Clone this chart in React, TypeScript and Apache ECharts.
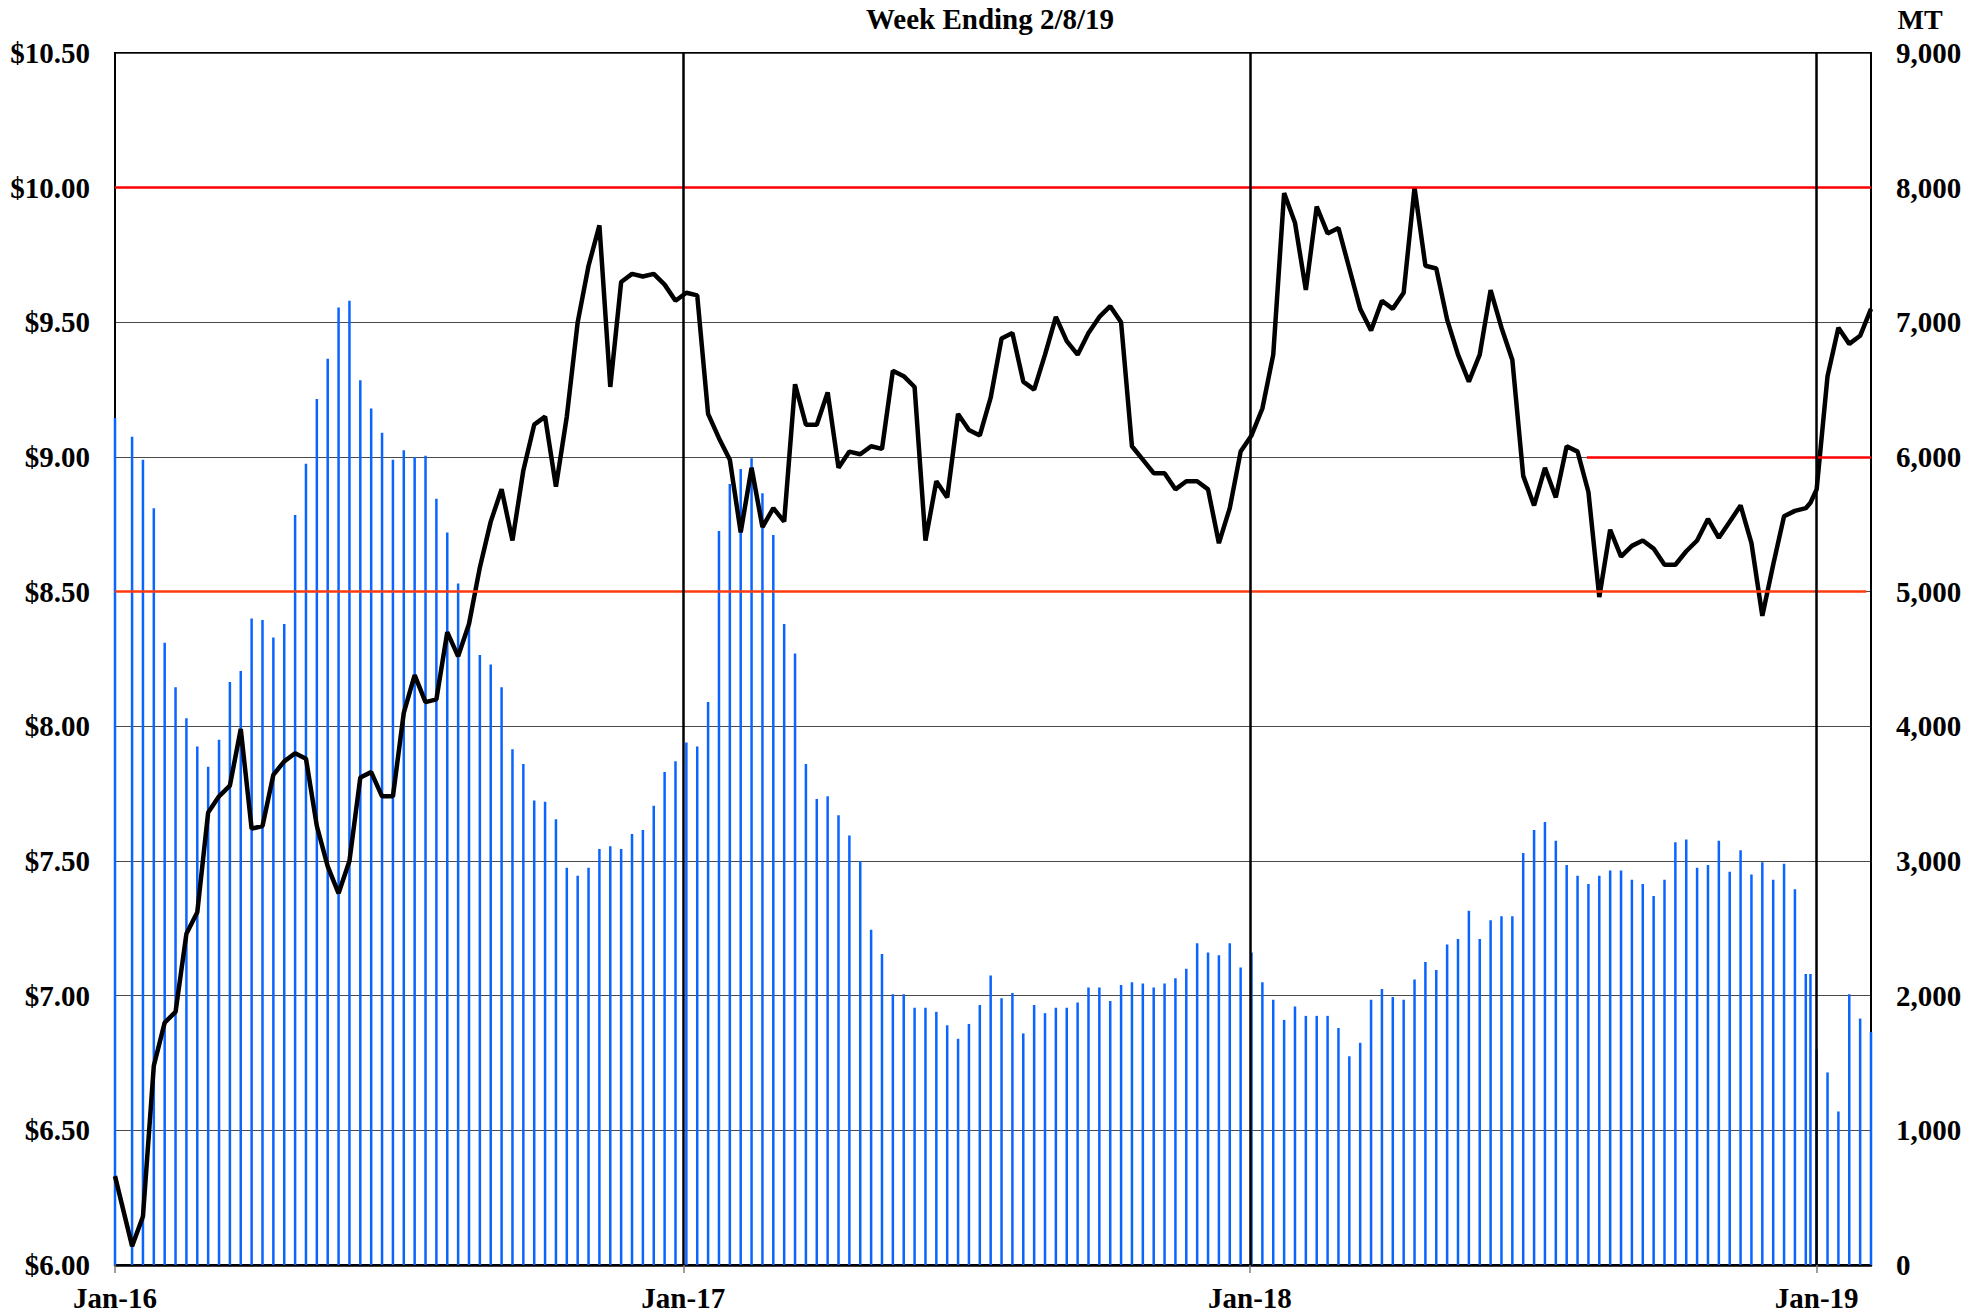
import React, { useEffect, useRef } from "react";
import * as echarts from "echarts";

// ---------- categories: week-ending dates ----------
const FIRST_WEEK = "2016-01-15";
const LAST_WEEK = "2019-02-08";
const extraDates = ["2016-01-04", "2018-12-31"];
const AXIS_START = "2016-01-04";

const DAY = 86400000;
const toUTC = (s: string) => {
  const [y, m, d] = s.split("-").map(Number);
  return Date.UTC(y, m - 1, d);
};
const isoDate = (t: number) => new Date(t).toISOString().slice(0, 10);

function buildWeeks(): string[] {
  const out: string[] = [];
  for (let t = toUTC(FIRST_WEEK); t <= toUTC(LAST_WEEK); t += 7 * DAY) out.push(isoDate(t));
  return [...out, ...extraDates].sort();
}
const weekEnding: string[] = buildWeeks();

// ---------- tick labels ----------
const yearTickDates = ["2016-01-04", "2017-01-04", "2018-01-04", "2019-01-04"];
const yearTickLabels = ["Jan-16", "Jan-17", "Jan-18", "Jan-19"];

// ---------- series values ----------
// price, $ (left axis)
const priceValues: number[] = [
  6.33,
  6.07, 6.18, 6.74, 6.90, 6.94, 7.23, 7.31, 7.68, 7.74, 7.78, 7.99, 7.62, 7.63, 7.82, 7.87,
  7.90, 7.88, 7.63, 7.48, 7.38, 7.50, 7.81, 7.83, 7.74, 7.74,
  8.05, 8.19, 8.09, 8.10, 8.35, 8.26, 8.38, 8.59, 8.76, 8.88, 8.69, 8.95, 9.12, 9.15, 8.89,
  9.15, 9.50, 9.71, 9.86, 9.26, 9.65, 9.68, 9.67, 9.68, 9.64, 9.58, 9.61,
  9.60, 9.16, 9.07, 8.99, 8.72, 8.96, 8.74, 8.81, 8.76, 9.27, 9.12, 9.12, 9.24, 8.96, 9.02,
  9.01, 9.04, 9.03, 9.32, 9.30, 9.26, 8.69, 8.91, 8.85, 9.16, 9.10, 9.08,
  9.22, 9.44, 9.46, 9.28, 9.25, 9.38, 9.52, 9.43, 9.38, 9.46, 9.52, 9.56, 9.50, 9.04, 8.99,
  8.94, 8.94, 8.88, 8.91, 8.91, 8.88, 8.68, 8.81, 9.02, 9.08, 9.18,
  9.38, 9.98, 9.87, 9.62, 9.93, 9.83, 9.85, 9.70, 9.55, 9.47, 9.58, 9.55, 9.61, 10.00, 9.71,
  9.70, 9.51, 9.38, 9.28, 9.38, 9.62, 9.48, 9.36, 8.93, 8.82, 8.96, 8.85,
  9.04, 9.02, 8.87, 8.48, 8.73, 8.63, 8.67, 8.69, 8.66, 8.60, 8.60, 8.65, 8.69, 8.77, 8.70,
  8.76, 8.82, 8.68, 8.41, 8.60, 8.78, 8.80, 8.81,
  8.83,
  8.88, 9.30, 9.48, 9.42, 9.45, 9.55,
];

// volume, MT (right axis)
const volumeValues: number[] = [
  6290,
  6150, 5980, 5620, 4620, 4290, 4060, 3850, 3700, 3900, 4330, 4410, 4800, 4790, 4660, 4760,
  5570, 5950, 6430, 6730, 7110, 7160, 6570, 6360, 6180, 5980,
  6050, 6000, 6010, 5690, 5440, 5060, 4750, 4530, 4460, 4290, 3830, 3720, 3450, 3440, 3310,
  2950, 2890, 2950, 3090, 3110, 3090, 3200, 3230, 3410, 3660, 3740, 3880,
  3850, 4180, 5450, 5800, 5910, 5990, 5730, 5420, 4760, 4540, 3720, 3460, 3480, 3340, 3190,
  3000, 2490, 2310, 2010, 2010, 1910, 1910, 1880, 1780, 1680, 1790, 1930,
  2150, 1980, 2020, 1720, 1930, 1870, 1910, 1910, 1950, 2060, 2060, 1960, 2080, 2100, 2090,
  2060, 2090, 2130, 2200, 2390, 2320, 2300, 2390, 2210, 2320, 2100,
  1970, 1820, 1920, 1850, 1850, 1850, 1760, 1550, 1650, 1970, 2050, 1990, 1970, 2120, 2250,
  2190, 2380, 2420, 2630, 2420, 2560, 2590, 2590, 3060, 3230, 3290, 3150,
  2970, 2890, 2830, 2890, 2930, 2930, 2860, 2830, 2740, 2860, 3140, 3160, 2950, 2970, 3150,
  2920, 3080, 2900, 2990, 2860, 2980, 2790, 2160,
  2160,
  1600, 1430, 1140, 2010, 1830, 1730,
];

// reference levels ($)
const upperLevel = 10.0;
const lowerLevel = 8.5;
const recentLevel = 9.0;
const recentLevelFrom = "2018-08-09";

const FONT = "'Liberation Serif', 'Times New Roman', serif";

const dayOf = (s: string) => (toUTC(s) - toUTC(AXIS_START)) / DAY;

export default function App() {
  const ref = useRef<HTMLDivElement>(null);

  useEffect(() => {
    if (!ref.current) return;
    const chart = echarts.init(ref.current, undefined, { renderer: "svg" });

    const days = weekEnding.map(dayOf);
    const xMax = dayOf(LAST_WEEK);
    const tickDays = yearTickDates.map(dayOf);
    const labelFor = (v: number) => {
      const k = tickDays.findIndex((t) => Math.abs(t - v) < 0.5);
      return k >= 0 ? yearTickLabels[k] : "";
    };

    const priceData = days.map((d, i) => [d, priceValues[i]]);
    const volData = days.map((d, i) => [d, volumeValues[i]]);

    const labelStyle = {
      fontFamily: FONT,
      fontWeight: "bold" as const,
      fontSize: 29,
      color: "#000",
    };

    chart.setOption({
      animation: false,
      backgroundColor: "#fff",
      grid: {
        left: 115,
        right: 115,
        top: 53,
        bottom: 50,
        show: true,
        borderColor: "#000",
        borderWidth: 2,
        backgroundColor: "transparent",
      },
      graphic: [
        {
          type: "text",
          x: 990,
          y: 19,
          style: {
            text: "Week Ending 2/8/19",
            fontFamily: FONT,
            fontWeight: "bold",
            fontSize: 29,
            fill: "#000",
            textAlign: "center",
            textVerticalAlign: "middle",
          },
        },
        {
          type: "text",
          x: 1920,
          y: 19,
          style: {
            text: "MT",
            fontFamily: FONT,
            fontWeight: "bold",
            fontSize: 28,
            fill: "#000",
            textAlign: "center",
            textVerticalAlign: "middle",
          },
        },
      ],
      xAxis: {
        type: "value",
        min: 0,
        max: xMax,
        splitLine: { show: false },
        axisLine: { show: true, onZero: false, lineStyle: { color: "#000", width: 2.5 } },
        axisTick: {
          show: true,
          customValues: tickDays,
          length: 8,
          lineStyle: { color: "#7f7f7f", width: 1.5 },
        },
        axisLabel: {
          customValues: tickDays,
          formatter: (v: number) => labelFor(v),
          margin: 18,
          ...labelStyle,
        },
      },
      yAxis: [
        {
          type: "value",
          min: 6,
          max: 10.5,
          interval: 0.5,
          position: "left",
          axisLine: { show: true, lineStyle: { color: "#000", width: 2 } },
          axisTick: { show: false },
          splitLine: { show: true, lineStyle: { color: "#4a4a4a", width: 1 } },
          axisLabel: {
            margin: 25,
            formatter: (v: number) => "$" + v.toFixed(2),
            ...labelStyle,
          },
        },
        {
          type: "value",
          min: 0,
          max: 9000,
          interval: 1000,
          position: "right",
          axisLine: { show: true, lineStyle: { color: "#000", width: 2 } },
          axisTick: { show: false },
          splitLine: { show: false },
          axisLabel: {
            margin: 25,
            formatter: (v: number) => v.toLocaleString("en-US"),
            ...labelStyle,
          },
        },
      ],
      series: [
        {
          type: "bar",
          name: "MT",
          xAxisIndex: 0,
          yAxisIndex: 1,
          data: volData,
          barWidth: 2.5,
          itemStyle: { color: "#0a64ff" },
          silent: true,
          z: 2,
        },
        {
          type: "line",
          name: "levels",
          yAxisIndex: 0,
          data: [],
          silent: true,
          z: 3,
          markLine: {
            silent: true,
            symbol: "none",
            label: { show: false },
            animation: false,
            data: [
              [
                { coord: [0, upperLevel], lineStyle: { color: "#ff0000", width: 2.5, type: "solid" } },
                { coord: [xMax, upperLevel] },
              ],
              [
                { coord: [0, lowerLevel], lineStyle: { color: "#ff3a0f", width: 2.5, type: "solid" } },
                { coord: [xMax - 3, lowerLevel] },
              ],
              [
                { coord: [dayOf(recentLevelFrom), recentLevel], lineStyle: { color: "#ff0000", width: 2.5, type: "solid" } },
                { coord: [xMax, recentLevel] },
              ],
              ...tickDays.slice(1).map((d) => ({
                xAxis: d,
                lineStyle: { color: "#000", width: 2.5, type: "solid" },
              })),
            ],
          },
        },
        {
          type: "line",
          name: "Price",
          yAxisIndex: 0,
          data: priceData,
          showSymbol: false,
          symbol: "none",
          lineStyle: { color: "#000", width: 4.5 },
          silent: true,
          z: 4,
        },
      ],
    });

    return () => chart.dispose();
  }, []);

  return (
    <div
      ref={ref}
      style={{ position: "absolute", left: 0, top: 0, width: 1986, height: 1315, background: "#fff" }}
    />
  );
}
